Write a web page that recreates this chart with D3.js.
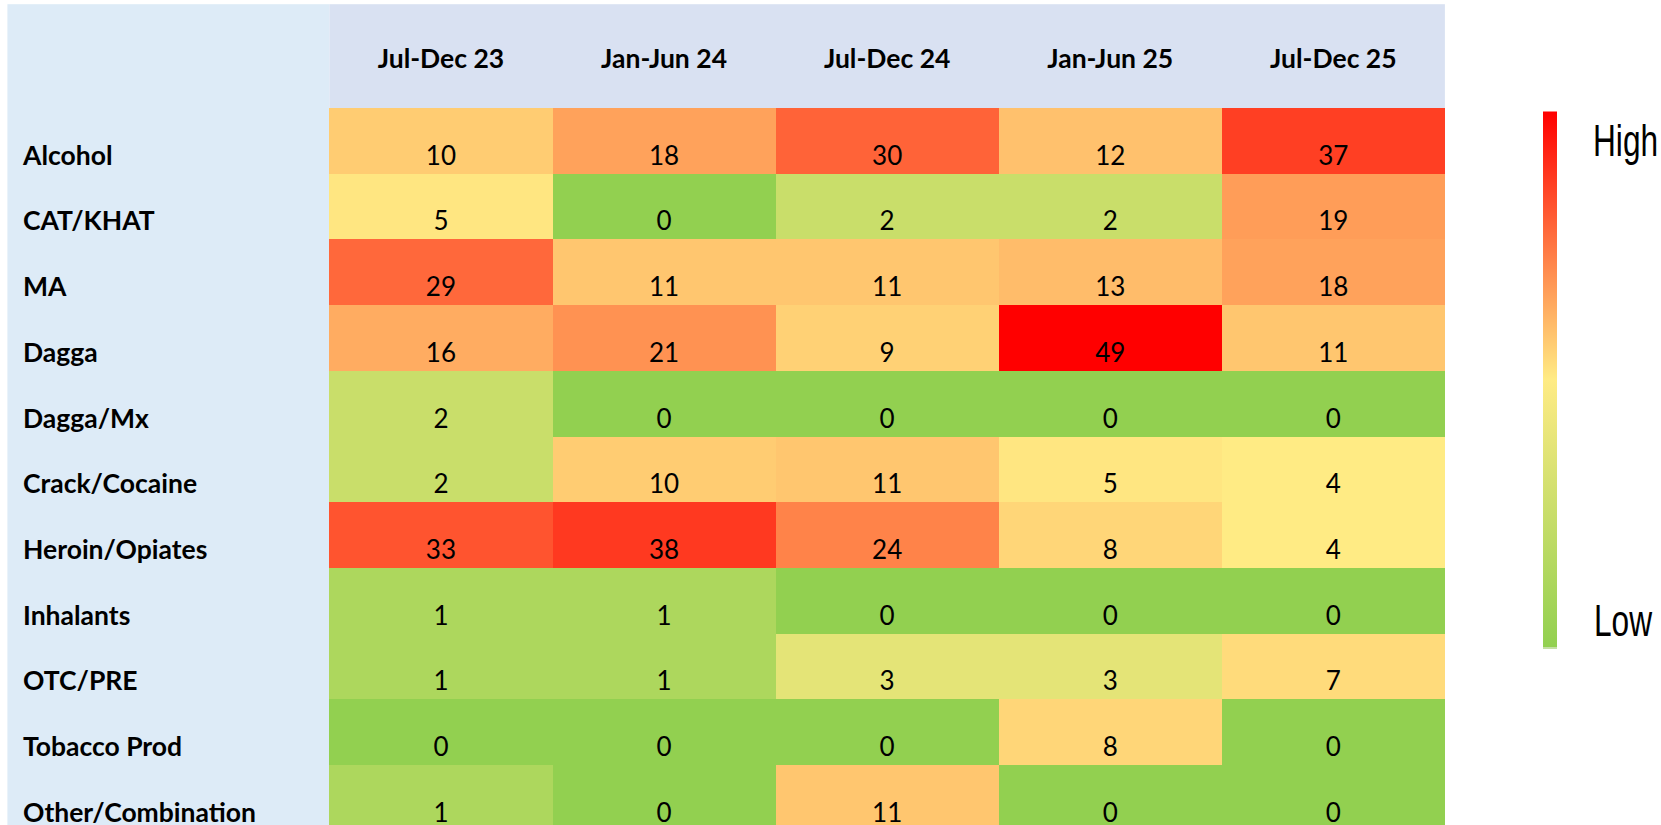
<!DOCTYPE html>
<html>
<head>
<meta charset="utf-8">
<script src="https://cdn.jsdelivr.net/npm/d3@7"></script>
<style>
  html, body { margin: 0; padding: 0; background: #ffffff; overflow: hidden; }
  svg { display: block; }
</style>
</head>
<body>
<svg id="chart" width="1661" height="825"></svg>
<script>
// ---- data ----
const periods = ["Jul-Dec 23", "Jan-Jun 24", "Jul-Dec 24", "Jan-Jun 25", "Jul-Dec 25"];
const substances = ["Alcohol", "CAT/KHAT", "MA", "Dagga", "Dagga/Mx", "Crack/Cocaine",
  "Heroin/Opiates", "Inhalants", "OTC/PRE", "Tobacco Prod", "Other/Combination"];
const alcohol        = [10, 18, 30, 12, 37];
const catKhat        = [5, 0, 2, 2, 19];
const ma             = [29, 11, 11, 13, 18];
const dagga          = [16, 21, 9, 49, 11];
const daggaMx        = [2, 0, 0, 0, 0];
const crackCocaine   = [2, 10, 11, 5, 4];
const heroinOpiates  = [33, 38, 24, 8, 4];
const inhalants      = [1, 1, 0, 0, 0];
const otcPre         = [1, 1, 3, 3, 7];
const tobaccoProd    = [0, 0, 0, 8, 0];
const otherComb      = [1, 0, 11, 0, 0];
const legendLabels   = ["High", "Low"];

const rowsValues = [alcohol, catKhat, ma, dagga, daggaMx, crackCocaine,
  heroinOpiates, inhalants, otcPre, tobaccoProd, otherComb];
const cells = [];
substances.forEach((s, i) => periods.forEach((p, j) => cells.push({ s, p, v: rowsValues[i][j] })));

// ---- layout ----
const svg = d3.select("#chart");
const gridLeft = 329.4, gridRight = 1444.9;
const headerTop = 4.2, headerBottom = 108, rowH = 65.7;
const x = d3.scaleBand().domain(periods).range([gridLeft, gridRight]).paddingInner(0);
const y = d3.scaleBand().domain(substances).range([headerBottom, headerBottom + rowH * substances.length]).paddingInner(0);

const allVals = cells.map(d => d.v);
const sorted = allVals.slice().sort(d3.ascending);
const mid = d3.quantile(sorted, 0.5);
const color = d3.scaleLinear()
  .domain([d3.min(allVals), mid, d3.max(allVals)])
  .range(["#92D050", "#FFEB84", "#FF0000"])
  .interpolate(d3.interpolateRgb);

const fontMain = "Lato, 'Open Sans', sans-serif";
const baseOff = 9;

// left label panel
svg.append("rect").attr("x", 7.4).attr("y", headerTop)
  .attr("width", gridLeft - 7.4).attr("height", 825 - headerTop)
  .attr("fill", "#DDEBF7");
// header panel
svg.append("rect").attr("x", gridLeft).attr("y", headerTop)
  .attr("width", gridRight - gridLeft).attr("height", headerBottom - headerTop)
  .attr("fill", "#D9E1F2");

// cells
svg.append("g").selectAll("rect").data(cells).join("rect")
  .attr("x", d => x(d.p)).attr("y", d => y(d.s))
  .attr("width", x.bandwidth()).attr("height", y.bandwidth())
  .attr("fill", d => color(d.v))
  .attr("shape-rendering", "crispEdges");

// header labels
svg.append("g").selectAll("text").data(periods).join("text")
  .attr("x", d => x(d) + x.bandwidth() / 2).attr("y", 68)
  .attr("text-anchor", "middle")
  .attr("font-family", fontMain).attr("font-weight", "bold").attr("font-size", 26.5)
  .attr("fill", "#000").text(d => d);

// row labels
svg.append("g").selectAll("text").data(substances).join("text")
  .attr("x", 23).attr("y", d => y(d) + y.bandwidth() - baseOff)
  .attr("font-family", fontMain).attr("font-weight", "bold").attr("font-size", 26.5)
  .attr("fill", "#000").text(d => d);

// values
svg.append("g").selectAll("text").data(cells).join("text")
  .attr("x", d => x(d.p) + x.bandwidth() / 2).attr("y", d => y(d.s) + y.bandwidth() - baseOff)
  .attr("text-anchor", "middle")
  .attr("font-family", fontMain).attr("font-size", 26)
  .attr("fill", "#000").text(d => d.v);

// legend
const defs = svg.append("defs");
const grad = defs.append("linearGradient").attr("id", "lg")
  .attr("x1", 0).attr("y1", 0).attr("x2", 0).attr("y2", 1);
grad.append("stop").attr("offset", "0%").attr("stop-color", "#FF0000");
grad.append("stop").attr("offset", "50%").attr("stop-color", "#FFEB84");
grad.append("stop").attr("offset", "100%").attr("stop-color", "#92D050");
const legY = d3.scaleLinear().domain([1, 0]).range([111.5, 647]);
svg.append("rect").attr("x", 1543).attr("y", legY(1)).attr("width", 14)
  .attr("height", legY(0) - legY(1)).attr("fill", "url(#lg)");
svg.append("rect").attr("x", 1543).attr("y", legY(0)).attr("width", 14)
  .attr("height", 2).attr("fill", "#C4E0A4");
const legendFont = "'Liberation Sans', Arial, sans-serif";
[[legendLabels[0], 1593, 156], [legendLabels[1], 1594, 636]].forEach(([t, tx, ty]) => {
  svg.append("text")
    .attr("transform", `translate(${tx},${ty}) scale(0.72,1)`)
    .attr("font-family", legendFont).attr("font-size", 44).attr("fill", "#000")
    .text(t);
});
</script>
</body>
</html>
